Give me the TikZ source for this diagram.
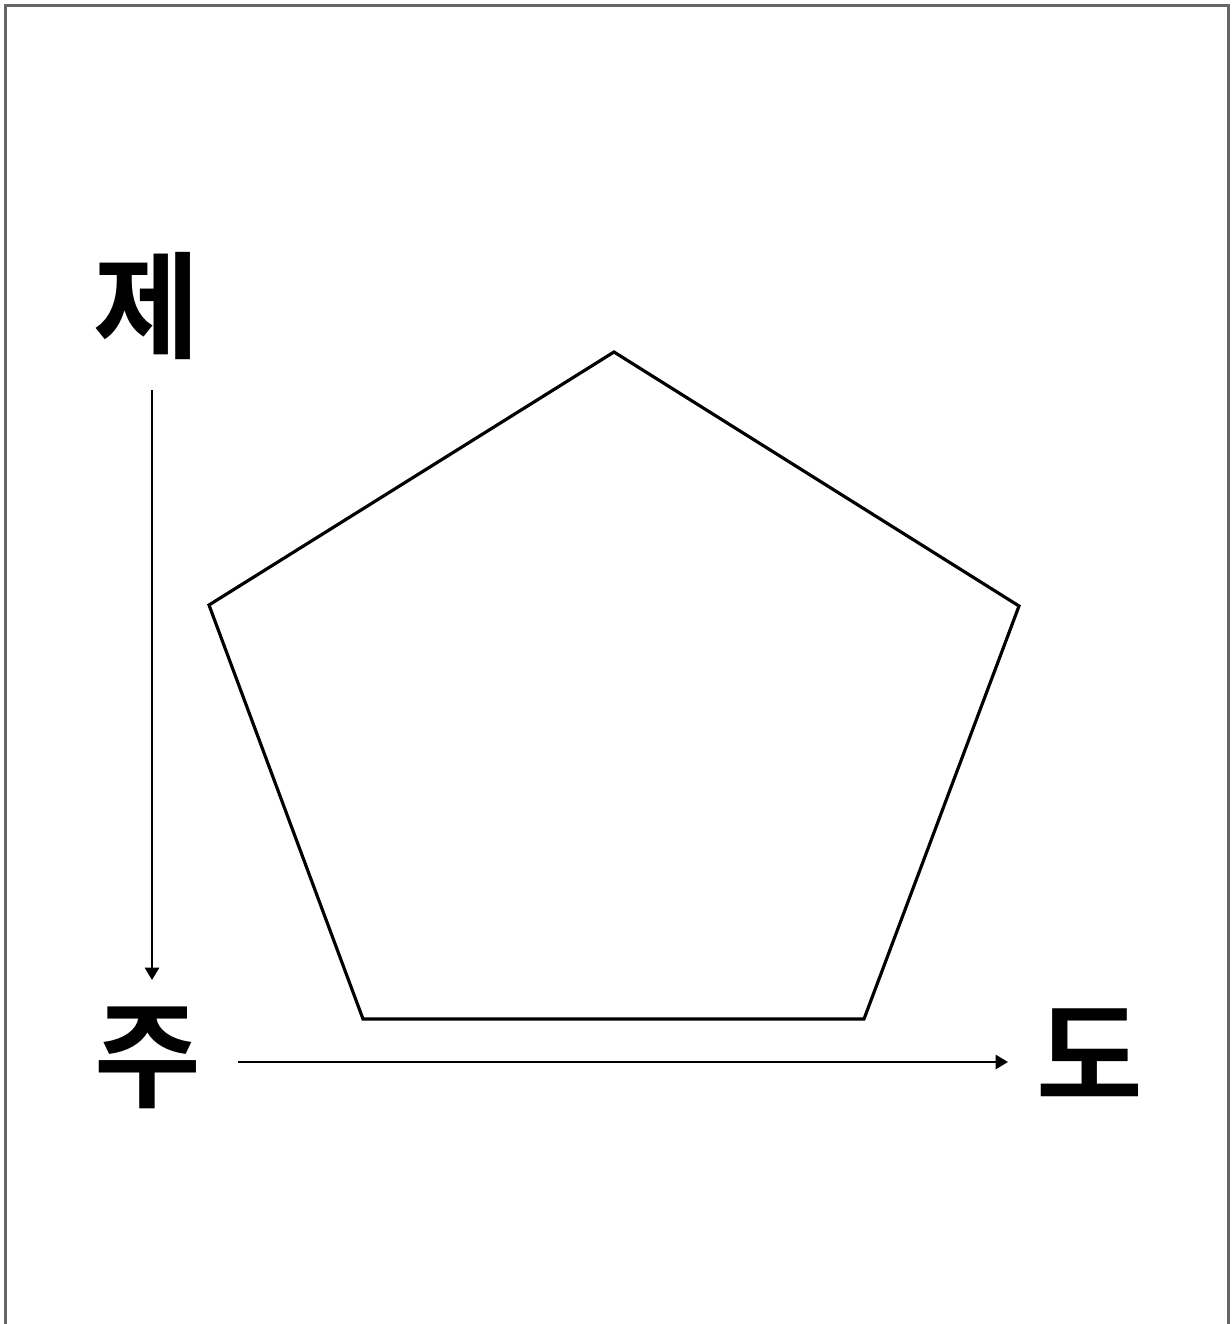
\documentclass[tikz,border=0pt]{standalone}
\usepackage{fontspec}
\newfontfamily\kr{Noto Sans CJK KR}[BoldFont={* Bold}]
\usetikzlibrary{arrows.meta}
\begin{document}
\begin{tikzpicture}[x=0.02cm,y=-0.02cm,
  lbl/.style={font=\kr\bfseries\fontsize{66}{66}\selectfont, inner sep=0pt},
  axis/.style={line width=1.4pt, -{Triangle[length=7pt,width=8pt]}},
  pent/.style={line width=1.8pt, line join=miter}]
\useasboundingbox (0,0) rectangle (1231,1324);
\draw[gray!80!black, line width=1.2pt] (5.5,1324) -- (5.5,5.5) -- (1228.5,5.5) -- (1228.5,1324);
\node[lbl] (je) at (147,306) {제};
\node[lbl] (ju) at (148,1058) {주};
\node[lbl] (do) at (1090,1054) {도};
\coordinate (vs) at (152,390);
\coordinate (ve) at (152,980);
\coordinate (hs) at (238,1062);
\coordinate (he) at (1008,1062);
\draw[axis] (vs) -- (ve);
\draw[axis] (hs) -- (he);
\coordinate (p1) at (614,352);
\coordinate (p2) at (1019,606);
\coordinate (p3) at (864,1019);
\coordinate (p4) at (363,1019);
\coordinate (p5) at (209,605);
\draw[pent] (p1) -- (p2) -- (p3) -- (p4) -- (p5) -- cycle;
\end{tikzpicture}
\end{document}
